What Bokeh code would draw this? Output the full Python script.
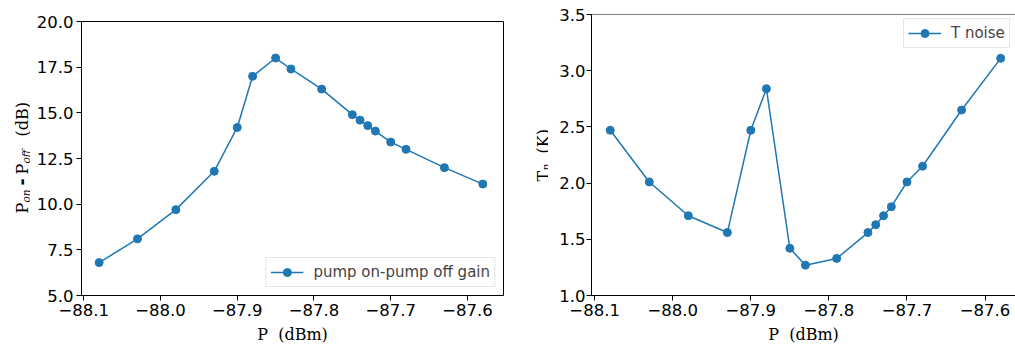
from math import pi
from bokeh.plotting import figure
from bokeh.layouts import row
from bokeh.models import (Range1d, FixedTicker, PrintfTickFormatter,
                          CustomJSTickFormatter, LinearAxis, Span)
from bokeh.core.properties import value
from bokeh.embed import file_html
from bokeh.resources import INLINE

# ---------------- data ----------------
power_dbm = [-88.08, -88.03, -87.98, -87.93, -87.90, -87.88, -87.85, -87.83,
             -87.79, -87.75, -87.74, -87.73, -87.72, -87.70, -87.68, -87.63,
             -87.58]
gain_db = [6.8, 8.1, 9.7, 11.8, 14.2, 17.0, 18.0, 17.4, 16.3, 14.9, 14.6,
           14.3, 14.0, 13.4, 13.0, 12.0, 11.1]
t_noise_k = [2.47, 2.01, 1.71, 1.56, 2.47, 2.84, 1.42, 1.27, 1.33, 1.56, 1.63,
             1.71, 1.79, 2.01, 2.15, 2.65, 3.11]
x_ticks = [-88.1, -88.0, -87.9, -87.8, -87.7, -87.6]
gain_ticks = [5.0, 7.5, 10.0, 12.5, 15.0, 17.5, 20.0]
tn_ticks = [1.0, 1.5, 2.0, 2.5, 3.0, 3.5]
gain_limits = (5.0, 20.0)
tn_limits = (1.0, 3.5)
gain_legend = "pump on-pump off gain"
tn_legend = "T noise"
x_label = "P  (dBm)"

BLUE = "#1f77b4"
TICK_FONT = "DejaVu Sans"
LABEL_FONT = "DejaVu Serif"
TICK_SIZE = "16.5px"
LABEL_SIZE = "16px"
SUB_SIZE = "10.5px"

H = 346
TOP = 14          # common top border (row aligns frames)
BOTTOM = 51


def make_fig(width, xr, yr, bl, br, y_standoff):
    p = figure(width=width, height=H, output_backend="svg",
               toolbar_location=None, x_range=Range1d(*xr), y_range=Range1d(*yr),
               min_border_left=bl, min_border_right=br, min_border_top=TOP,
               min_border_bottom=BOTTOM)
    p.grid.visible = False
    p.outline_line_color = None
    p.background_fill_color = "white"
    p.border_fill_color = "white"
    for ax in (p.xaxis[0], p.yaxis[0]):
        ax.axis_line_color = "black"
        ax.axis_line_width = 1
        ax.major_tick_line_color = "black"
        ax.major_tick_out = 5
        ax.major_tick_in = 0
        ax.minor_tick_line_color = None
        ax.major_label_text_font = TICK_FONT
        ax.major_label_text_font_size = TICK_SIZE
        ax.major_label_text_color = "black"
        ax.major_label_standoff = 3
    p.yaxis.major_label_standoff = y_standoff
    p.xaxis.ticker = FixedTicker(ticks=x_ticks)
    p.xaxis.formatter = CustomJSTickFormatter(
        code="return tick.toFixed(1).replace('-', '\\u2212');")
    p.xaxis.axis_label = x_label.replace(" ", "\u00a0")
    p.xaxis.axis_label_text_font = LABEL_FONT
    p.xaxis.axis_label_text_font_size = LABEL_SIZE
    p.xaxis.axis_label_text_font_style = "normal"
    p.xaxis.axis_label_text_color = "black"
    p.xaxis.axis_label_standoff = 6
    p.yaxis.formatter = PrintfTickFormatter(format="%.1f")
    return p


def label_fig(width):
    f = figure(width=width, height=H, output_backend="svg", toolbar_location=None,
               x_range=Range1d(0, width), y_range=Range1d(BOTTOM, H - TOP),
               x_axis_type=None, y_axis_type=None, min_border_left=0,
               min_border_right=0, min_border_top=TOP, min_border_bottom=BOTTOM)
    f.outline_line_color = None
    f.background_fill_color = "white"
    f.border_fill_color = "white"
    return f


def rot_text(f, px, py, text, size=LABEL_SIZE, style="normal", font=LABEL_FONT):
    # px: baseline x (pixels from left), py: start of text (pixels from top)
    f.text(x=[px], y=[H - py], text=[text], angle=pi / 2, text_align="left",
           text_baseline="alphabetic", text_font=value(font),
           text_font_size=size, text_font_style=style, text_color="black")


# ---------------- left y label ----------------
LAB1_W = 30
lab1 = label_fig(LAB1_W)
b1 = 22
rot_text(lab1, b1, 213, "P")
rot_text(lab1, b1 + 3, 202, "on", size=SUB_SIZE, style="italic")
rot_text(lab1, b1 - 1, 185, "-", size="17px", style="bold", font="DejaVu Sans")
rot_text(lab1, b1, 174, "P")
rot_text(lab1, b1 + 3, 163, "off", size=SUB_SIZE, style="italic")
rot_text(lab1, b1, 136, "(dB)")

# ---------------- left figure ----------------
FRAME1_TOP = 21   # where gain_limits[1] sits
px_per_db = (H - BOTTOM - FRAME1_TOP) / (gain_limits[1] - gain_limits[0])
yr1 = (gain_limits[0], gain_limits[1] + (FRAME1_TOP - TOP) / px_per_db)
xr1 = (-88.103, -87.553)
p1 = make_fig(530 - LAB1_W, xr1, yr1, 81 - LAB1_W, 27, 3)
p1.yaxis.ticker = FixedTicker(ticks=gain_ticks)
p1.yaxis.bounds = gain_limits
p1.add_layout(LinearAxis(bounds=gain_limits, axis_line_color="black",
                         major_tick_line_color=None, minor_tick_line_color=None,
                         major_label_text_font_size="0px",
                         major_label_text_alpha=0.0), "right")
p1.add_layout(Span(location=gain_limits[1], dimension="width",
                   line_color="black", line_width=1))
p1.line(power_dbm, gain_db, line_color=BLUE, line_width=1.5, legend_label=gain_legend)
p1.scatter(power_dbm, gain_db, size=8, fill_color=BLUE, line_color=BLUE,
           legend_label=gain_legend)

# ---------------- right y label ----------------
LAB2_W = 18
lab2 = label_fig(LAB2_W)
b2 = 13
rot_text(lab2, b2, 181, "T")
rot_text(lab2, b2 + 2.3, 170, "n", size=SUB_SIZE, style="italic")
rot_text(lab2, b2, 153, "(K)")

# ---------------- right figure (cut at the window edge like the reference) ----
xr2 = (-88.104, -87.561)
p2 = make_fig(1015 - 530 - LAB2_W, xr2, tn_limits, 591 - 530 - LAB2_W, 0, 1)
p2.yaxis.ticker = FixedTicker(ticks=tn_ticks)
p2.add_layout(Span(location=tn_limits[1], dimension="width",
                   line_color="black", line_width=1))
p2.line(power_dbm, t_noise_k, line_color=BLUE, line_width=1.5, legend_label=tn_legend)
p2.scatter(power_dbm, t_noise_k, size=8, fill_color=BLUE, line_color=BLUE,
           legend_label=tn_legend)

for p in (p1, p2):
    lg = p.legend[0]
    lg.margin = 8
    lg.padding = 4
    lg.spacing = 0
    lg.label_text_font = TICK_FONT
    lg.label_text_font_size = "15px"
    lg.label_standoff = 10
    lg.glyph_width = 33
    lg.glyph_height = 20
    lg.border_line_color = "#cccccc"
    lg.border_line_width = 1
    lg.background_fill_alpha = 0.8
p1.legend[0].location = "bottom_right"
p2.legend[0].location = (312, 247)

layout = row(lab1, p1, lab2, p2)
with open("out.html", "w", encoding="utf-8") as f:
    f.write(file_html(layout, INLINE))
